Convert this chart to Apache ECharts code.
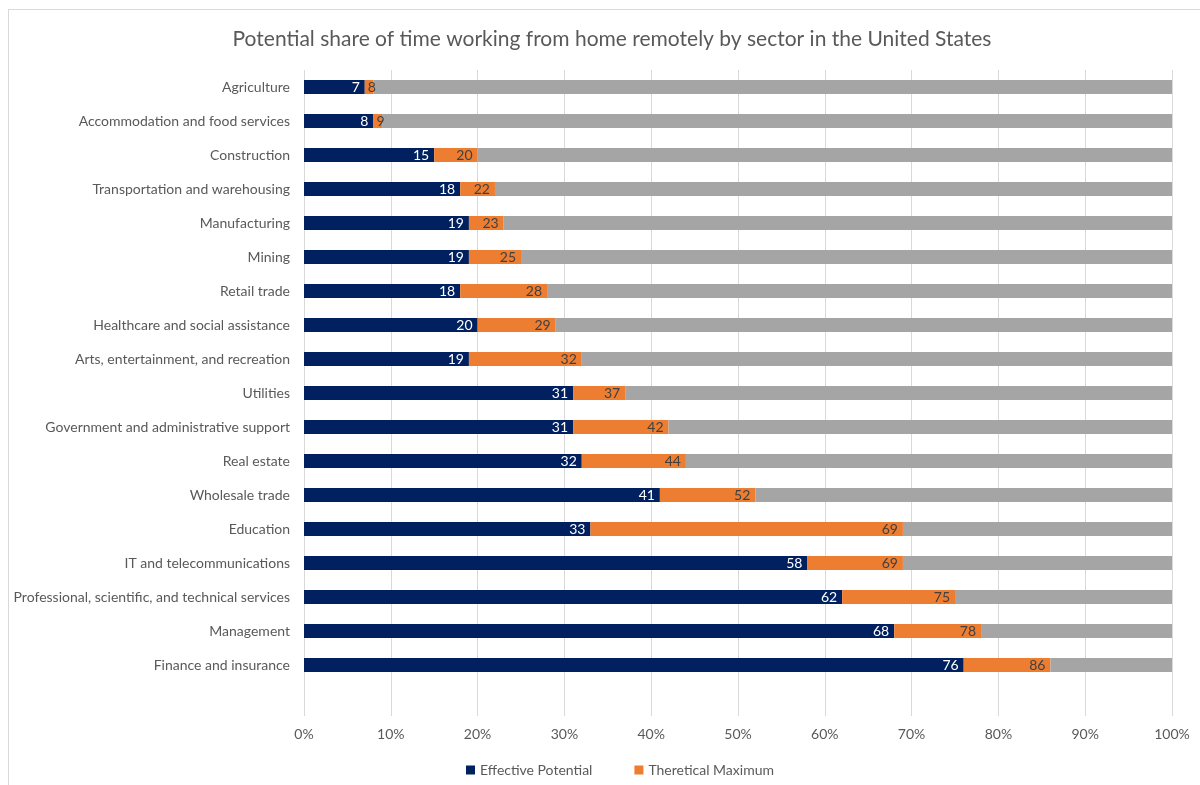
<!DOCTYPE html>
<html>
<head>
<meta charset="utf-8">
<script src="https://cdn.jsdelivr.net/npm/echarts@6/dist/echarts.min.js"></script>
<style>
  html, body { margin: 0; padding: 0; background: #fff; }
  #chart { width: 1200px; height: 785px; }
  #frame { position: absolute; left: 8px; top: 9px; width: 1300px; height: 900px;
           border-left: 1px solid #d9d9d9; border-top: 1px solid #d9d9d9; pointer-events: none; }
</style>
</head>
<body>
<div id="chart"></div>
<div id="frame"></div>
<script>
// sectors, top to bottom; last one is the empty row Excel leaves at the bottom
var sectors = ['Agriculture', 'Accommodation and food services', 'Construction',
  'Transportation and warehousing', 'Manufacturing', 'Mining', 'Retail trade',
  'Healthcare and social assistance', 'Arts, entertainment, and recreation', 'Utilities',
  'Government and administrative support', 'Real estate', 'Wholesale trade', 'Education',
  'IT and telecommunications', 'Professional, scientific, and technical services',
  'Management', 'Finance and insurance', ''];
var effective = [7, 8, 15, 18, 19, 19, 18, 20, 19, 31, 31, 32, 41, 33, 58, 62, 68, 76];
var theoretical = [8, 9, 20, 22, 23, 25, 28, 29, 32, 37, 42, 44, 52, 69, 69, 75, 78, 86];
var xTicks = [0, 10, 20, 30, 40, 50, 60, 70, 80, 90, 100];

var rest = theoretical.map(function (t) { return 100 - t; });
// orange part = gap between the two; tiny gaps get their label pushed to the left edge
var gap = theoretical.map(function (t, i) {
  var g = t - effective[i];
  if (g < 3) {
    return { value: g, label: { position: 'insideLeft', distance: 3 } };
  }
  return g;
});

var font = 'Lato, "Open Sans", sans-serif';
var myChart = echarts.init(document.getElementById('chart'));
var option = {
  textStyle: { fontFamily: font },
  title: {
    text: 'Potential share of time working from home remotely by sector in the United States',
    left: 607, top: 24, textAlign: 'center',
    textStyle: { fontFamily: font, fontSize: 21, fontWeight: 'normal', color: '#595959' }
  },
  legend: {
    data: ['Effective Potential', 'Theretical Maximum'],
    left: 461, top: 758, itemWidth: 9, itemHeight: 9, itemGap: 42,
    icon: 'rect',
    textStyle: { fontFamily: font, fontSize: 14, color: '#595959' }
  },
  grid: { left: 304, right: 28, top: 70, bottom: 69, containLabel: false },
  xAxis: {
    type: 'value', min: xTicks[0], max: xTicks[xTicks.length - 1], interval: 10,
    axisLine: { show: false }, axisTick: { show: false },
    axisLabel: { formatter: '{value}%', color: '#595959', fontSize: 14, margin: 11, fontFamily: font },
    splitLine: { lineStyle: { color: '#d9d9d9', width: 1 } }
  },
  yAxis: {
    type: 'category', data: sectors, inverse: true,
    axisLine: { show: false }, axisTick: { show: false },
    axisLabel: { color: '#595959', fontSize: 14, margin: 14, fontFamily: font }
  },
  series: [
    {
      name: 'Effective Potential', type: 'bar', stack: 'a', barWidth: 14,
      data: effective, itemStyle: { color: '#002060' },
      label: { show: true, position: 'insideRight', color: '#fff', fontSize: 14, fontFamily: font }
    },
    {
      name: 'Theretical Maximum', type: 'bar', stack: 'a', barWidth: 14,
      data: gap, itemStyle: { color: '#ED7D31' },
      label: {
        show: true, position: 'insideRight', color: '#404040', fontSize: 14, fontFamily: font,
        formatter: function (p) { return theoretical[p.dataIndex]; }
      }
    },
    {
      name: 'Remaining', type: 'bar', stack: 'a', barWidth: 14,
      data: rest, itemStyle: { color: '#A5A5A5' }
    }
  ]
};
myChart.setOption(option);
window.addEventListener('resize', function () { myChart.resize(); });
</script>
</body>
</html>
